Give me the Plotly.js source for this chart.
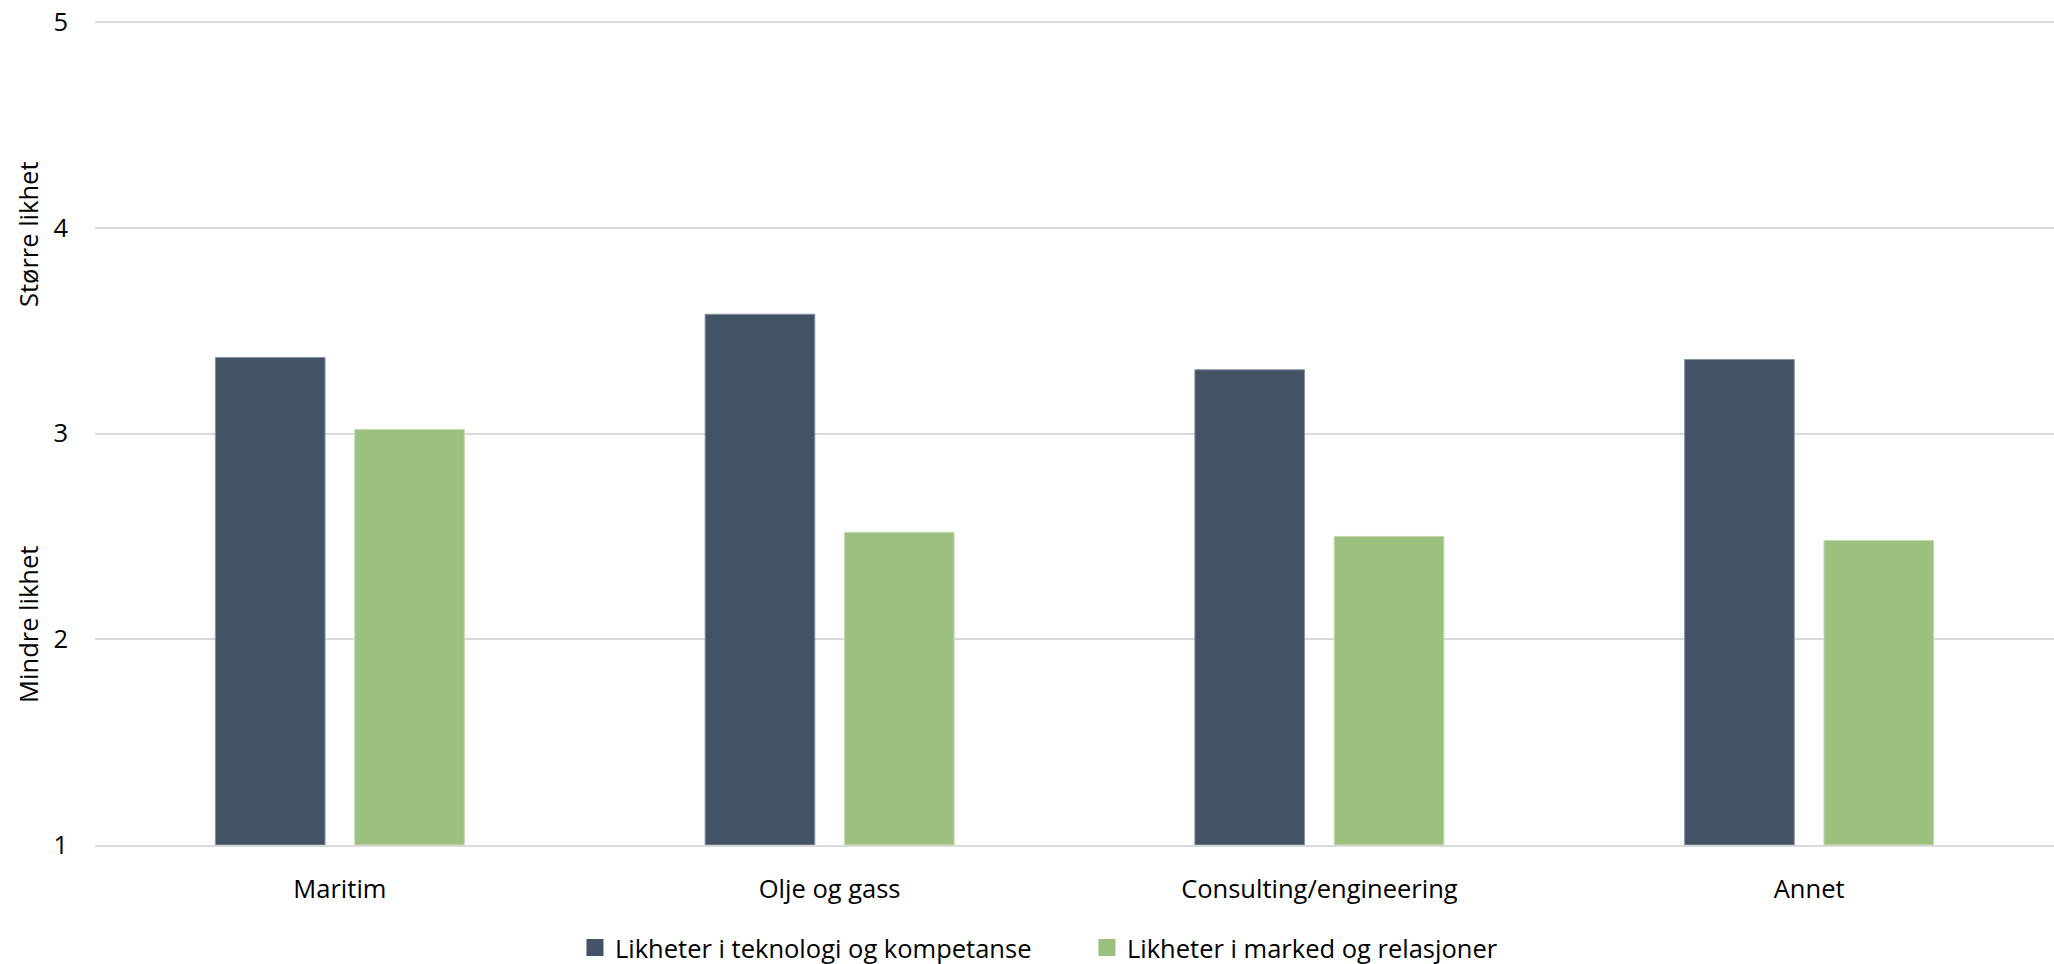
<!DOCTYPE html>
<html>
<head>
<meta charset="utf-8">
<script src="https://cdn.plot.ly/plotly-3.0.1.min.js"></script>
<style>html,body{margin:0;padding:0;background:#fff;}#chart{width:2054px;height:964px;}</style>
</head>
<body>
<div id="chart"></div>
<script>
const categories = ["Maritim", "Olje og gass", "Consulting/engineering", "Annet"];
const seriesNames = ["Likheter i teknologi og kompetanse", "Likheter i marked og relasjoner"];
const teknologi = [3.37, 3.58, 3.31, 3.36];
const marked = [3.02, 2.52, 2.50, 2.48];
const yTickVals = [1, 2, 3, 4, 5];
const yTitleTop = "Større likhet";
const yTitleBottom = "Mindre likhet";

const FONT = "Open Sans, Segoe UI, sans-serif";
const FS = 25.5;

const traces = [
  {
    type: "bar", name: seriesNames[0], x: categories,
    y: teknologi.map(v => v - 1), base: 1,
    marker: {color: "#425366", line: {color: "#8793a2", width: 1}},
    hoverinfo: "skip"
  },
  {
    type: "bar", name: seriesNames[1], x: categories,
    y: marked.map(v => v - 1), base: 1,
    marker: {color: "#9cc07e", line: {color: "#c4dab2", width: 1}},
    hoverinfo: "skip"
  }
];

const layout = {
  width: 2054, height: 964,
  margin: {l: 95, r: 0, t: 18, b: 119, autoexpand: false},
  paper_bgcolor: "#fff", plot_bgcolor: "#fff",
  font: {family: FONT, size: FS, color: "#000"},
  barmode: "group",
  bargap: 0.431,
  bargroupgap: 0.213,
  showlegend: true,
  legend: {
    orientation: "h", xref: "paper", x: 0.245, xanchor: "left",
    yref: "container", y: 0.0166, yanchor: "middle",
    entrywidth: 467, entrywidthmode: "pixels",
    font: {family: FONT, size: FS, color: "#000"},
    bgcolor: "rgba(0,0,0,0)"
  },
  xaxis: {
    type: "category", automargin: false,
    showgrid: false, showline: true, linecolor: "#d9d9d9", linewidth: 2,
    ticks: "", ticklabelstandoff: 20,
    tickfont: {family: FONT, size: FS, color: "#000"},
    fixedrange: true
  },
  yaxis: {
    range: [1, 5.02], tickvals: yTickVals, ticktext: yTickVals.map(String), automargin: false,
    showgrid: true, gridcolor: "#d9d9d9", gridwidth: 2,
    zeroline: false, showline: false, ticks: "", ticklabelstandoff: 26,
    tickfont: {family: FONT, size: FS, color: "#000"},
    fixedrange: true
  },
  annotations: [
    {text: yTitleTop, xref: "paper", yref: "y", x: -0.0342, y: 3.97, textangle: -90,
     showarrow: false, xanchor: "center", yanchor: "middle", font: {family: FONT, size: FS, color: "#000"}},
    {text: yTitleBottom, xref: "paper", yref: "y", x: -0.0342, y: 2.07, textangle: -90,
     showarrow: false, xanchor: "center", yanchor: "middle", font: {family: FONT, size: FS, color: "#000"}}
  ]
};

Plotly.newPlot("chart", traces, layout, {displayModeBar: false, staticPlot: true}).then(() => {
  document.querySelectorAll(".legendpoints path").forEach(p => {
    p.setAttribute("d", "M8.5,8.5H-8.5V-8.5H8.5Z");
    p.style.strokeWidth = "0px";
  });
});
</script>
</body>
</html>
